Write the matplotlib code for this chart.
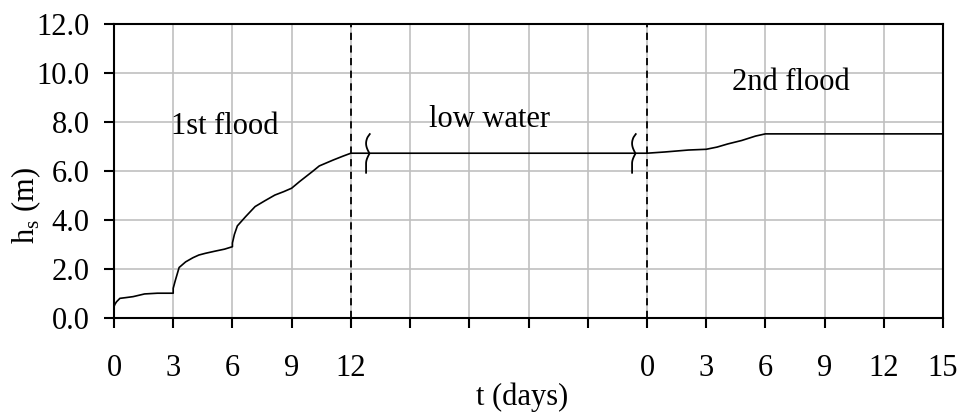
import numpy as np
import matplotlib
matplotlib.use('Agg')
import matplotlib.pyplot as plt
from matplotlib.path import Path

plt.rcParams['font.family'] = ['Liberation Serif', 'DejaVu Serif']
plt.rcParams['mathtext.fontset'] = 'custom'
plt.rcParams['mathtext.rm'] = 'Liberation Serif'

# x axis: 0-12 first flood, 12-27 low water (compressed), 27-42 second flood
t = [0.0, 0.05, 0.13, 0.3, 0.6, 0.97, 1.55, 2.2, 3.0,
     3.0, 3.1, 3.3, 3.63, 4.0, 4.3, 4.63, 5.13, 5.6, 6.0,
     6.0, 6.1, 6.25, 6.67, 7.15, 7.65, 8.15, 8.6, 9.0, 9.4, 10.05, 10.4, 11.1, 11.6, 12.0,
     27.0, 27.9, 29.1, 30.0, 30.55, 31.1, 31.8, 32.5, 33.0, 42.0]
hs = [0.45, 0.55, 0.65, 0.79, 0.82, 0.86, 0.97, 1.0, 1.0,
      1.2, 1.5, 2.05, 2.28, 2.45, 2.56, 2.63, 2.72, 2.8, 2.9,
      3.05, 3.4, 3.75, 4.13, 4.54, 4.78, 5.01, 5.15, 5.29, 5.56, 5.97, 6.2, 6.44, 6.6, 6.72,
      6.72, 6.77, 6.85, 6.88, 6.97, 7.1, 7.24, 7.42, 7.51, 7.51]

xticks = np.arange(0, 43, 3)
xlabels = ['0', '3', '6', '9', '12', '', '', '', '', '0', '3', '6', '9', '12', '15']
period_edges = [12, 27]
breaks_x = [12.9, 26.4]
breaks_y = [6.72, 6.72]

fig = plt.figure(figsize=(9.57, 4.15), dpi=100)
ax = fig.add_axes([0.1191, 0.2345, 0.8663, 0.7077])

ax.plot(t, hs, color='black', lw=1.2, zorder=3)
for xe in period_edges:
    ax.axvline(xe, color='black', lw=1.3, ls=(0, (4, 3)), zorder=2)

# slim brace-like break marks on the curve
s = np.linspace(1, -1, 60)
dx = np.where(s > -0.5, -0.17 * np.abs(np.sin(np.pi * s)), -0.17) + 0.04 * np.clip(s - 0.8, 0, None) * 5
brace = Path(np.column_stack([dx, s]))
ax.plot(breaks_x, breaks_y, ls='none', marker=brace, markersize=29,
        markerfacecolor='none', markeredgecolor='black', markeredgewidth=1.3, zorder=4)

ax.text(5.6, 7.8, '1st flood', fontsize=22, ha='center', va='center')
ax.text(19.0, 8.1, 'low water', fontsize=22, ha='center', va='center')
ax.text(34.3, 9.6, '2nd flood', fontsize=22, ha='center', va='center')

ax.set_xlim(0, 42)
ax.set_ylim(0, 12)
ax.set_xticks(xticks)
ax.set_xticklabels(xlabels)
ax.set_yticks(np.arange(0, 12.1, 2))
ax.set_yticklabels(['%.1f' % v for v in np.arange(0, 12.1, 2)])
ax.tick_params(axis='both', labelsize=22, direction='out', length=7.5, width=1.5, color='black')
ax.tick_params(axis='x', pad=19)
ax.tick_params(axis='y', pad=10)
ax.grid(True, color='#c0c0c0', lw=1.2)
ax.set_axisbelow(True)
for sp in ax.spines.values():
    sp.set_linewidth(1.5)

fig.text(522 / 957, 1 - 397 / 415, 't (days)', fontsize=22, ha='center', va='center')
fig.text(26 / 957, 1 - 206 / 415, r'h$_\mathregular{s}$ (m)', fontsize=22,
         ha='center', va='center', rotation=90)

fig.savefig('out.png', dpi=100)
